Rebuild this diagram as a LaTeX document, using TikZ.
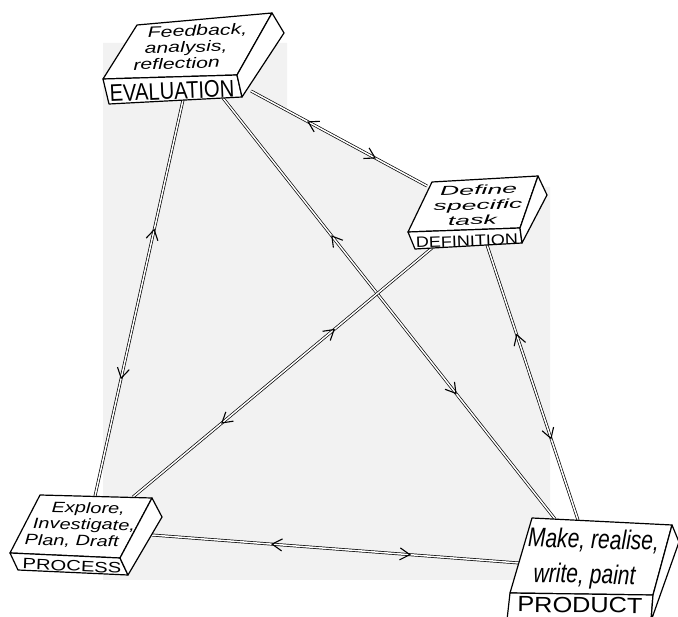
\documentclass[tikz,border=0pt]{standalone}
\usepackage{fontspec}
\setmainfont{Liberation Sans}
\newfontfamily\evalfont[FakeStretch=1.42]{Liberation Sans}
\newfontfamily\deffont[FakeStretch=2.05]{Liberation Sans}
\newfontfamily\procfont[FakeStretch=1.33]{Liberation Sans}
\newfontfamily\prodfont[FakeStretch=0.78]{Liberation Sans}
\newfontfamily\evallabfont[FakeStretch=0.84]{Liberation Sans}
\newfontfamily\deflabfont[FakeStretch=1.2]{Liberation Sans}
\newfontfamily\proclabfont[FakeStretch=1.35]{Liberation Sans}
\newfontfamily\prodlabfont[FakeStretch=1.15]{Liberation Sans}
\usetikzlibrary{decorations.markings}

\begin{document}
\begin{tikzpicture}[x=1pt,y=-1pt]
    \tikzstyle{face}=[draw, line width=1.2pt, fill=white, line join=round]
    \tikzstyle{link}=[double, double distance=1.5pt, line width=.7pt, postaction={decorate},
        decoration={markings,
            mark=at position .33 with {\draw[line width=1.1pt] (9pt,6pt) -- (-1pt,0pt) -- (9pt,-6pt);},
            mark=at position .7 with {\draw[line width=1.1pt] (-9pt,6pt) -- (1pt,0pt) -- (-9pt,-6pt);}}]
    \tikzstyle{txt}=[inner sep=0pt, align=center]

    \useasboundingbox (0,0) rectangle (678,617);
    \clip (0,0) rectangle (678,617);

    % shaded paper behind the diagram
    \fill[black!5] (103,43) -- (287,43) -- (287,111) -- (427,187) -- (550,187) -- (550,580) -- (103,580) -- cycle;

    % block corners: top face 1-4, front strip 5-6, side 7
    \coordinate (e1) at (137,25);  \coordinate (e2) at (272,13);  \coordinate (e3) at (237,75);  \coordinate (e4) at (103,79);
    \coordinate (e5) at (109,104); \coordinate (e6) at (242,97);  \coordinate (e7) at (284,33);
    \coordinate (d1) at (432,182); \coordinate (d2) at (538,176); \coordinate (d3) at (520,228); \coordinate (d4) at (408,232);
    \coordinate (d5) at (415,249); \coordinate (d6) at (522,243); \coordinate (d7) at (547,195);
    \coordinate (p1) at (40,495);  \coordinate (p2) at (152,498); \coordinate (p3) at (120,558); \coordinate (p4) at (10,553);
    \coordinate (p5) at (18,570);  \coordinate (p6) at (128,575); \coordinate (p7) at (162,517);
    \coordinate (q1) at (532,518); \coordinate (q2) at (672,525); \coordinate (q3) at (653,595); \coordinate (q4) at (510,593);
    \coordinate (q5) at (507,620); \coordinate (q6) at (651,621); \coordinate (q7) at (679,542);

    % where the links meet the blocks
    \coordinate (eval-r)  at (251,91);
    \coordinate (eval-b1) at (183,100);
    \coordinate (eval-b2) at (223,98);
    \coordinate (def-l)   at (427,186);
    \coordinate (def-b1)  at (432,248);
    \coordinate (def-b2)  at (487,245);
    \coordinate (proc-t1) at (95,496);
    \coordinate (proc-t2) at (133,497);
    \coordinate (proc-r)  at (152,535);
    \coordinate (prod-t1) at (555,519);
    \coordinate (prod-t2) at (578,520);
    \coordinate (prod-l)  at (519,563);

    % links
    \draw[link] (eval-r) -- (def-l);
    \draw[link] (eval-b1) -- (proc-t1);
    \draw[link] (eval-b2) -- (prod-t1);
    \draw[link] (def-b1) -- (proc-t2);
    \draw[link] (def-b2) -- (prod-t2);
    \draw[link] (proc-r) -- (prod-l);

    % blocks
    \draw[face] (e1) -- (e2) -- (e3) -- (e4) -- cycle;
    \draw[face] (e4) -- (e3) -- (e6) -- (e5) -- cycle;
    \draw[face] (e3) -- (e2) -- (e7) -- (e6) -- cycle;
    \draw[face] (d1) -- (d2) -- (d3) -- (d4) -- cycle;
    \draw[face] (d4) -- (d3) -- (d6) -- (d5) -- cycle;
    \draw[face] (d3) -- (d2) -- (d7) -- (d6) -- cycle;
    \draw[face] (p1) -- (p2) -- (p3) -- (p4) -- cycle;
    \draw[face] (p4) -- (p3) -- (p6) -- (p5) -- cycle;
    \draw[face] (p3) -- (p2) -- (p7) -- (p6) -- cycle;
    \draw[face] (q1) -- (q2) -- (q3) -- (q4) -- cycle;
    \draw[face] (q4) -- (q3) -- (q6) -- (q5) -- cycle;
    \draw[face] (q3) -- (q2) -- (q7) -- (q6) -- cycle;

    % texts
    \tikzstyle{every node}=[txt]
    \node[rotate=2, font=\evalfont\itshape\fontsize{15}{16}\selectfont] (eval-txt) at (186,47)
        {\hspace*{24pt}Feedback,\\analysis,\\reflection\hspace*{20pt}};
    \node[rotate=2.5, font=\evallabfont\fontsize{24}{24}\selectfont] (eval-lab) at (172,91) {EVALUATION};

    \node[rotate=1.5, font=\deffont\itshape\fontsize{13}{15}\selectfont] (def-txt) at (476,205)
        {\hspace*{6pt}Define\\\hspace*{4pt}specific\\task\hspace*{8pt}};
    \node[rotate=2, font=\deflabfont\fontsize{15}{15}\selectfont] (def-lab) at (467,241) {DEFINITION};

    \node[rotate=-1, font=\procfont\itshape\fontsize{15}{16.5}\selectfont] (proc-txt) at (81,525)
        {\hspace*{14pt}Explore,\\\hspace*{6pt}Investigate,\\Plan, Draft\hspace*{18pt}};
    \node[rotate=-2.5, font=\proclabfont\fontsize{15}{15}\selectfont] (proc-lab) at (72,566) {PROCESS};

    \node[rotate=-1.5, font=\prodfont\itshape\fontsize{27}{35}\selectfont] (prod-txt) at (589,559)
        {\hspace*{8pt}Make, realise,\\write, paint\hspace*{8pt}};
    \node[rotate=-0.7, font=\prodlabfont\fontsize{22}{22}\selectfont] (prod-lab) at (580,605) {PRODUCT};
\end{tikzpicture}
\end{document}
